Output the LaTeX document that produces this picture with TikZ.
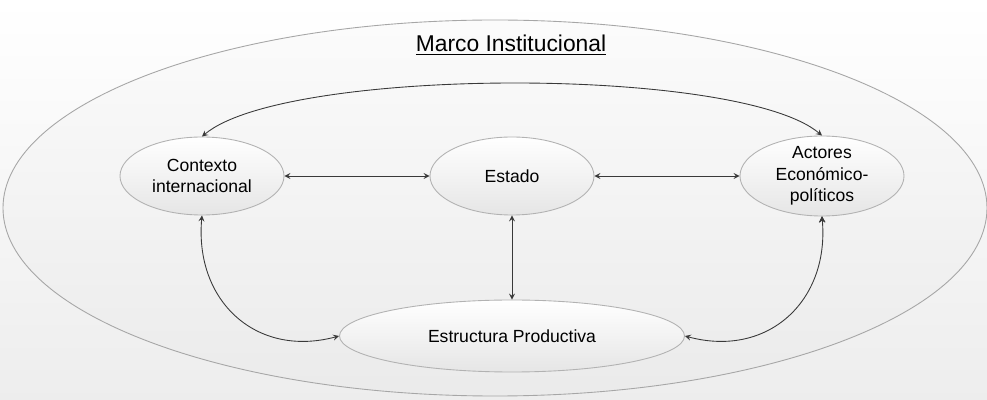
\documentclass[tikz,border=0pt]{standalone}
\usepackage{fontspec}
\setmainfont{Liberation Sans}
\usetikzlibrary{shapes.geometric, positioning, arrows}
\tikzset{
	<->, % every connector points both ways
	>=stealth, % small dark heads
	node distance=6.2cm, % centre to centre in the middle row
	every node/.style={font=\fontsize{10}{12.3}\selectfont},
	bloque/.style={ellipse, draw=gray!60, top color=white, bottom color=gray!20, align=center, inner sep=0pt, minimum width=3.28cm, minimum height=1.56cm}, % the inner ellipses
	marco/.style={ellipse, draw=gray!70, top color=gray!3, bottom color=gray!16, minimum width=19.68cm, minimum height=7.52cm}, % the outer frame
}
\begin{document}
\begin{tikzpicture}[draw=gray!45!black, line width=0.5pt]
		\useasboundingbox (-10.24,3.52) rectangle (9.5,-4.48);
		\shade[top color=white, bottom color=gray!14] (-10.24,3.52) rectangle (9.5,-4.48);

		\node[marco] (marco) at (-0.34,-0.64) {};
		\node[font=\fontsize{13}{15}\selectfont] (titulo) at (-0.02,2.62) {\underline{Marco Institucional}};

		\node[bloque] (est) at (0,0) {Estado};
		\node[bloque, left of=est] (ctx) {Contexto\\internacional};
		\node[bloque, right of=est, inner ysep=-3pt, minimum height=1.6cm] (act) {Actores\\Económico-\\políticos};
		\node[bloque, below of=est, node distance=3.2cm, minimum width=6.9cm, minimum height=1.44cm] (estr) {Estructura Productiva};

		\draw (ctx) edge (est)
			  (est) edge (act)
			  (est) edge (estr)
			  %
			  (ctx.north) edge[out=40, in=140, looseness=0.45] (act.north)
			  %
			  (ctx.south) edge[out=-95, in=195, looseness=1.2] (estr.west)
			  (act.south) edge[out=-85, in=-15, looseness=1.2] (estr.east)
		;
	\end{tikzpicture}
\end{document}
